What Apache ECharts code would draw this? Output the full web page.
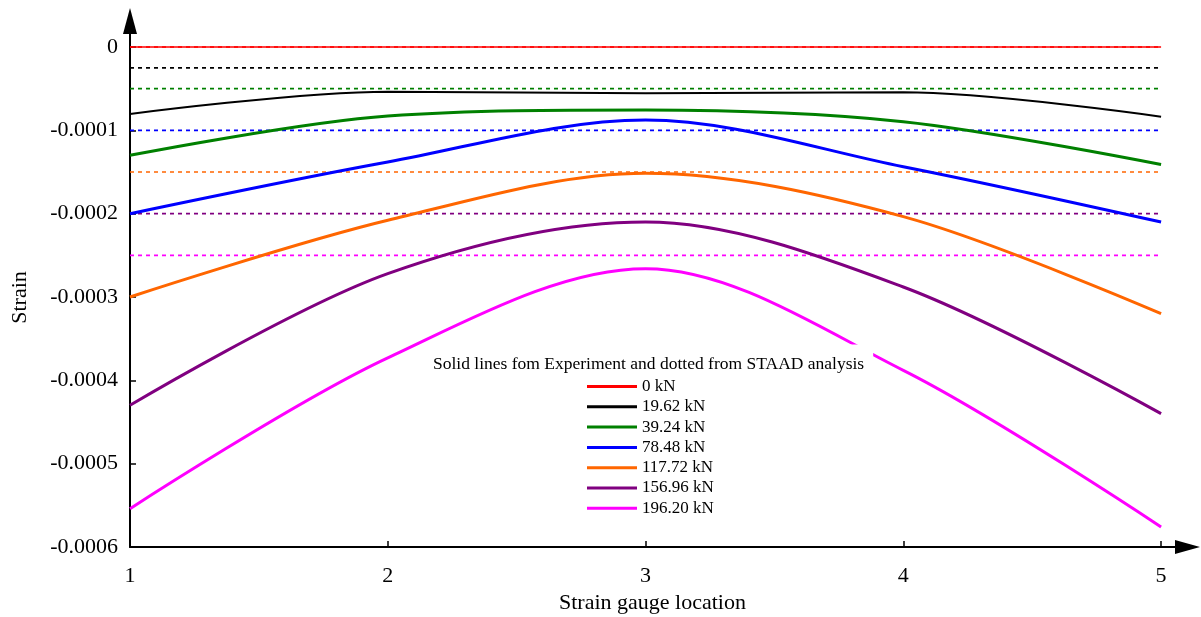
<!DOCTYPE html>
<html>
<head>
<meta charset="utf-8">
<title>Strain along gauge locations</title>
<script src="https://cdn.jsdelivr.net/npm/echarts@6/dist/echarts.min.js"></script>
<style>
  html, body { margin: 0; padding: 0; background: #fff; }
  #chart { width: 1201px; height: 617px; }
</style>
</head>
<body>
<div id="chart"></div>
<script>
// Strain gauge positions along the member
const locations = [1, 2, 3, 4, 5];
const xTicks = [1, 2, 3, 4, 5];
const yTicks = [0, -0.0001, -0.0002, -0.0003, -0.0004, -0.0005, -0.0006];

// Load steps and their line colours
const loadNames = ['0 kN', '19.62 kN', '39.24 kN', '78.48 kN', '117.72 kN', '156.96 kN', '196.20 kN'];
const loadColors = ['#ff0000', '#000000', '#008000', '#0000ff', '#ff6600', '#800080', '#ff00ff'];
const solidWidths = [1.5, 2, 3, 3, 3, 3, 3];

// Measured strains (experiment), one value per gauge location
const exp0 = [0, 0, 0, 0, 0];
const exp1962 = [-0.0000804, -0.0000536, -0.0000556, -0.0000544, -0.0000836];
const exp3924 = [-0.000130, -0.0000828, -0.0000756, -0.0000896, -0.000141];
const exp7848 = [-0.000200, -0.000138, -0.0000876, -0.0001436, -0.000210];
const exp11772 = [-0.000300, -0.000208, -0.0001516, -0.0002036, -0.000320];
const exp15696 = [-0.000430, -0.000272, -0.000210, -0.000288, -0.000440];
const exp19620 = [-0.000554, -0.000373, -0.000266, -0.000388, -0.000576];
const experiment = [exp0, exp1962, exp3924, exp7848, exp11772, exp15696, exp19620];

// STAAD analysis strains (uniform along the member)
const staad = [0, -0.000025, -0.00005, -0.0001, -0.00015, -0.0002, -0.00025];

const FONT = "'Liberation Serif', 'DejaVu Serif', serif";

const series = [];
staad.forEach((v, i) => {
  series.push({
    name: loadNames[i] + ' (STAAD)',
    type: 'line',
    data: locations.map(x => [x, v]),
    showSymbol: false,
    silent: true,
    z: 2,
    lineStyle: { color: loadColors[i], width: 1.6, type: [4, 4] },
    itemStyle: { color: loadColors[i] }
  });
});
experiment.forEach((vals, i) => {
  series.push({
    name: loadNames[i],
    type: 'line',
    data: locations.map((x, k) => [x, vals[k]]),
    smooth: 0.33,
    showSymbol: false,
    silent: true,
    z: 3,
    lineStyle: { color: loadColors[i], width: solidWidths[i] },
    itemStyle: { color: loadColors[i] }
  });
});

const chart = echarts.init(document.getElementById('chart'), null, { renderer: 'canvas' });
chart.setOption({
  animation: false,
  backgroundColor: '#ffffff',
  title: {
    text: 'Solid lines fom Experiment and dotted from STAAD analysis',
    left: 424,
    top: 345,
    padding: [11, 9, 4, 9],
    backgroundColor: '#ffffff',
    textStyle: { fontFamily: FONT, fontSize: 17.5, fontWeight: 'normal', color: '#000', lineHeight: 17 }
  },
  legend: {
    data: loadNames,
    orient: 'vertical',
    left: 587,
    top: 378,
    padding: 0,
    icon: 'rect',
    itemWidth: 50,
    itemHeight: 3,
    itemGap: 3.3,
    selectedMode: false,
    textStyle: { fontFamily: FONT, fontSize: 17, color: '#000', lineHeight: 17 }
  },
  grid: { left: 130, right: 26, top: 34, bottom: 70, containLabel: false, outerBoundsMode: 'none' },
  xAxis: {
    type: 'value',
    min: 1,
    max: 5.054,
    name: 'Strain gauge location',
    nameLocation: 'middle',
    nameGap: 44,
    nameTextStyle: { fontFamily: FONT, fontSize: 22, color: '#000' },
    axisLine: {
      show: true, onZero: false,
      lineStyle: { color: '#000', width: 2 },
      symbol: ['none', 'triangle'],
      symbolSize: [14, 25],
      symbolOffset: [0, 12.5]
    },
    axisTick: { show: true, inside: true, length: 6, customValues: xTicks, lineStyle: { color: '#000', width: 1.5 } },
    axisLabel: { customValues: xTicks, fontFamily: FONT, fontSize: 22, color: '#000', margin: 18 },
    splitLine: { show: false }
  },
  yAxis: {
    type: 'value',
    min: -0.0006,
    max: 0.0000156,
    name: 'Strain',
    nameLocation: 'middle',
    nameGap: 99,
    nameTextStyle: { fontFamily: FONT, fontSize: 22, color: '#000', padding: [0, 14, 0, 0] },
    axisLine: {
      show: true, onZero: false,
      lineStyle: { color: '#000', width: 2 },
      symbol: ['none', 'triangle'],
      symbolSize: [14, 26],
      symbolOffset: [0, 13]
    },
    axisTick: { show: true, inside: true, length: 6, customValues: yTicks, lineStyle: { color: '#000', width: 1.5 } },
    axisLabel: {
      customValues: yTicks,
      fontFamily: FONT, fontSize: 22, color: '#000', margin: 12,
      formatter: v => (Math.abs(v) < 1e-12 ? '0' : v.toFixed(4))
    },
    splitLine: { show: false }
  },
  series: series
});
</script>
</body>
</html>
